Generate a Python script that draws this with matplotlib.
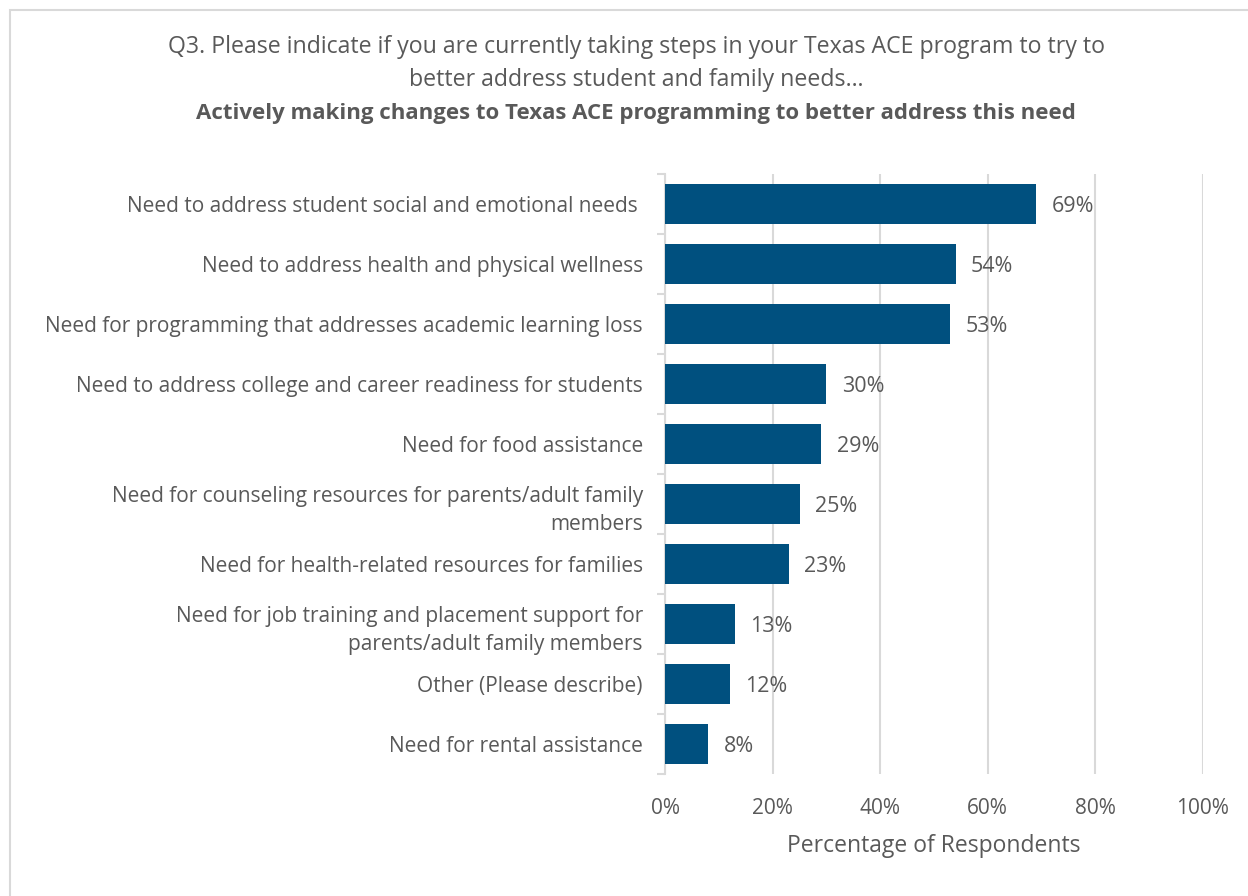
import matplotlib
matplotlib.use("Agg")
import matplotlib.pyplot as plt
from matplotlib.patches import Rectangle

plt.rcParams['font.family'] = ['Open Sans', 'DejaVu Sans']

categories = [
    "Need to address student social and emotional needs ",
    "Need to address health and physical wellness",
    "Need for programming that addresses academic learning loss",
    "Need to address college and career readiness for students",
    "Need for food assistance",
    "Need for counseling resources for parents/adult family\nmembers",
    "Need for health-related resources for families",
    "Need for job training and placement support for\nparents/adult family members",
    "Other (Please describe)",
    "Need for rental assistance",
]
values = [69, 54, 53, 30, 29, 25, 23, 13, 12, 8]
xticks = [0, 20, 40, 60, 80, 100]
xtick_labels = ["0%", "20%", "40%", "60%", "80%", "100%"]

text_color = "#595959"
bar_color = "#00507F"
grid_color = "#D9D9D9"

W, H = 1248, 896
fig = plt.figure(figsize=(W / 100, H / 100), dpi=100)

# outer chart frame
fig.patches.append(Rectangle((10 / W, -0.1), 1.2, 1 - 10 / H + 0.1, transform=fig.transFigure,
                             fill=False, edgecolor=grid_color, linewidth=1.5))

ax = fig.add_axes([665 / W, 1 - 774 / H, (1203 - 665) / W, (774 - 174) / H])

ypos = list(range(len(categories)))
ax.barh(ypos, values, height=0.667, color=bar_color, zorder=3)
ax.set_ylim(len(categories) - 0.5, -0.5)
ax.set_xlim(0, 100)

for y, v in zip(ypos, values):
    ax.text(v + 2.9, y + 0.04, f"{v}%", va="center", ha="left", fontsize=15.5, color=text_color)

ax.set_xticks(xticks)
ax.set_xticklabels(xtick_labels, fontsize=15, color=text_color)
ax.grid(axis="x", color=grid_color, linewidth=1.5, zorder=0)
ax.tick_params(axis="x", length=0, pad=17)

ax.set_yticks(ypos)
ax.set_yticklabels(categories, fontsize=15, color=text_color, linespacing=1.45)
ax.set_yticks([i - 0.5 for i in range(len(categories) + 1)], minor=True)
ax.tick_params(axis="y", which="major", length=0, pad=16)
ax.tick_params(axis="y", which="minor", length=6, width=1.5, color=grid_color)

for s in ["top", "right", "bottom"]:
    ax.spines[s].set_visible(False)
ax.spines["left"].set_color(grid_color)
ax.spines["left"].set_linewidth(1.5)

ax.set_xlabel("Percentage of Respondents", fontsize=16.5, color=text_color, labelpad=11)

fig.text(636 / W, 1 - 47 / H,
         "Q3. Please indicate if you are currently taking steps in your Texas ACE program to try to",
         ha="center", va="center", fontsize=16.7, color=text_color)
fig.text(636 / W, 1 - 80 / H, "better address student and family needs…",
         ha="center", va="center", fontsize=16.7, color=text_color)
fig.text(636 / W, 1 - 113 / H,
         "Actively making changes to Texas ACE programming to better address this need",
         ha="center", va="center", fontsize=16, fontweight="bold", color=text_color)

fig.savefig("out.png", dpi=100, facecolor="white")
